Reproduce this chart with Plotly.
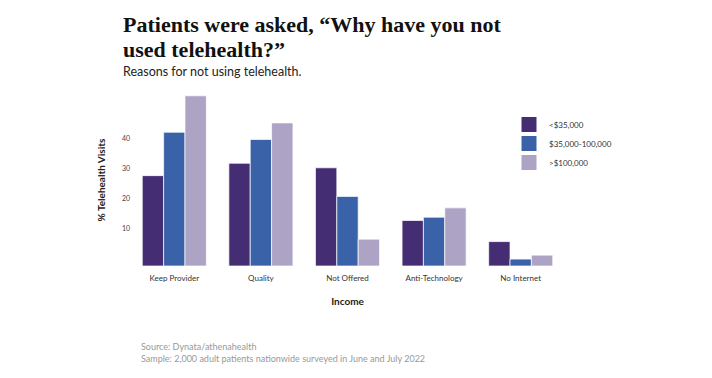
import plotly.graph_objects as go

categories = ["Keep Provider", "Quality", "Not Offered", "Anti-Technology", "No Internet"]
series_names = ["&lt;$35,000", "$35,000-100,000", "&gt;$100,000"]
low_income = [30.0, 34.1, 32.6, 15.1, 8.1]
mid_income = [44.4, 42.0, 23.1, 16.2, 2.3]
high_income = [56.5, 47.5, 8.9, 19.3, 3.6]
tick_values = [10, 20, 30, 40]
colors = ["#452d74", "#3a62a8", "#ada3c4"]

fig = go.Figure()
for name, vals, col in zip(series_names, [low_income, mid_income, high_income], colors):
    fig.add_trace(go.Bar(x=categories, y=vals, name=name, marker_color=col,
                         marker_line_color="rgba(255,255,255,0.7)", marker_line_width=1,
                         showlegend=False))
    fig.add_trace(go.Scatter(x=[None], y=[None], mode="markers", name=name,
                             marker=dict(symbol="square", size=22, color=col,
                                         line=dict(color="white", width=1))))

sans = "Lato, 'Open Sans', sans-serif"
OFF = 8  # page body margin
FW, FH = 704, 370
L, T, B = 131 - OFF, 94 - OFF, 266 - OFF
W, H = 433, B - T
fig.update_layout(
    width=FW, height=FH,
    margin=dict(l=L, r=FW - L - W, t=T, b=FH - B, autoexpand=False),
    paper_bgcolor="white", plot_bgcolor="white",
    barmode="group", bargap=0.26, bargroupgap=0,
    font=dict(family=sans, color="#333"),
    xaxis=dict(showgrid=False, showline=False, ticks="", automargin=False,
               tickfont=dict(size=8, color="#333"), ticklabelstandoff=6,
               title=dict(text="<b>Income</b>", font=dict(size=10, color="#222"), standoff=15)),
    yaxis=dict(range=[0, 57.1], showgrid=False, showline=False, zeroline=False, automargin=False,
               tickvals=tick_values, ticktext=[str(v) for v in tick_values],
               tickfont=dict(size=7, color="#444"), ticks="", ticklabelshift=-7,
               title=dict(text="<b>% Telehealth Visits</b>", font=dict(size=10, color="#222"), standoff=14)),
    legend=dict(x=(509 - OFF - L) / W, y=(B - (110 - OFF)) / H, xanchor="left", yanchor="top",
                itemsizing="trace", font=dict(size=8, color="#333"),
                tracegroupgap=0, bgcolor="rgba(0,0,0,0)"),
)

def ann(text, sx, sy, size, family, color):
    fig.add_annotation(text=text, xref="paper", yref="paper",
                       x=(sx - OFF - L) / W, y=(B - (sy - OFF)) / H,
                       xanchor="left", yanchor="top", showarrow=False, align="left",
                       font=dict(family=family, size=size, color=color))

serif = "'Liberation Serif', serif"
ann("<b>Patients were asked, “Why have you not</b>", 121, 10, 22, serif, "#111")
ann("<b>used telehealth?”</b>", 121, 35, 22, serif, "#111")
ann("Reasons for not using telehealth.", 121, 62, 12.5, sans, "#222")
ann("Source: Dynata/athenahealth<br>Sample: 2,000 adult patients nationwide surveyed in June and July 2022",
    139, 339, 9, sans, "#999")

fig.write_html("out.html")
